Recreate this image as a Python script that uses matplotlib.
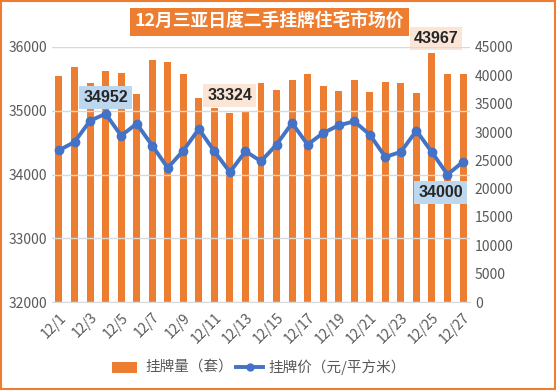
import matplotlib.pyplot as plt
import numpy as np
from matplotlib.patches import Rectangle

plt.rcParams['font.family'] = ['Noto Sans CJK SC', 'DejaVu Sans']

# daily data, 12/1 .. 12/27
days = [f"12/{d}" for d in range(1, 28)]
listings = [39880, 41530, 38650, 40770, 40410, 36710, 42710, 42350, 40240,
            36000, 34240, 33324, 33530, 38650, 37410, 39180, 40240, 38120,
            37290, 39180, 37060, 38880, 38650, 36880, 43967, 40240, 40240]
price = [34380, 34510, 34844, 34952, 34609, 34797, 34453, 34104, 34375,
         34714, 34364, 34036, 34364, 34208, 34469, 34807, 34469, 34651,
         34771, 34833, 34625, 34276, 34354, 34688, 34349, 34000, 34198]

orange = '#ED7D31'
blue = '#4472C4'
grey = '#595959'

fig = plt.figure(figsize=(5.57, 3.91), dpi=100)
ax = fig.add_axes([52 / 557, 1 - 302 / 391, (470 - 52) / 557, (302 - 47) / 391])
ax2 = ax.twinx()

x = np.arange(len(days))
ax2.bar(x, listings, width=0.45, color=orange, zorder=1)
ax2.set_ylim(0, 45000)
ax2.set_yticks(np.arange(0, 45001, 5000))

ax.set_zorder(ax2.get_zorder() + 1)
ax.patch.set_visible(False)
ax.plot(x, price, color=blue, lw=2.8, marker='o', ms=6, zorder=3)
ax.set_ylim(32000, 36000)
ax.set_yticks(np.arange(32000, 36001, 1000))
ax.set_xlim(-0.45, len(days) - 0.55)
ax.set_xticks(x[::2])
ax.set_xticklabels(days[::2], rotation=45, ha='right', rotation_mode='anchor')

ax.grid(axis='y', color='#D9D9D9', lw=1)
ax.set_axisbelow(True)
for a in (ax, ax2):
    for s in a.spines.values():
        s.set_visible(False)
    a.tick_params(length=0, colors=grey, labelsize=10)
ax.spines['bottom'].set_visible(True)
ax.spines['bottom'].set_color('#D9D9D9')
ax.tick_params(axis='x', pad=6)

# labels on max/min points
def tag(axis, xi, yi, txt, fc, dx, dy):
    axis.annotate(txt, (xi, yi), xytext=(dx, dy), textcoords='offset points',
                  ha='center', va='center', fontsize=11.5, fontweight='bold',
                  family=['Liberation Sans', 'DejaVu Sans'], color='#262626',
                  bbox=dict(boxstyle='square,pad=0.25', fc=fc, ec='none'), zorder=5)

tag(ax, 3, price[3], '34952', '#BDD7EE', 0, 12)
tag(ax, 25, price[25], '34000', '#BDD7EE', -5, -13)
tag(ax2, 11, listings[11], '33324', '#FBE5D6', 0, 13)
tag(ax2, 24, listings[24], '43967', '#FBE5D6', 3, 10)

# title box
fig.patches.append(Rectangle((130 / 557, 1 - 36 / 391), 279 / 557, 28 / 391,
                             transform=fig.transFigure, fc=orange, ec='none'))
fig.text(269.5 / 557, 1 - 22 / 391, '12月三亚日度二手挂牌住宅市场价', ha='center', va='center',
         color='white', fontsize=12.8, fontweight='bold')

# legend
fig.patches.append(Rectangle((112 / 557, 1 - 373 / 391), 25 / 557, 11 / 391,
                             transform=fig.transFigure, fc=orange, ec='none'))
fig.text(145 / 557, 1 - 367 / 391, '挂牌量（套）', va='center', color=grey, fontsize=10.5)
fig.lines.append(plt.Line2D([236 / 557, 263 / 557], [1 - 367 / 391] * 2,
                            transform=fig.transFigure, color=blue, lw=2.8))
fig.lines.append(plt.Line2D([249.5 / 557], [1 - 367 / 391], transform=fig.transFigure,
                            color=blue, marker='o', ms=5))
fig.text(268 / 557, 1 - 367 / 391, '挂牌价（元/平方米）', va='center', color=grey, fontsize=10.5)

# outer border
fig.patches.append(Rectangle((0.002, 0.004), 0.995, 0.993, transform=fig.transFigure,
                             fill=False, ec=orange, lw=1.5))

fig.savefig('out.png', dpi=100)
